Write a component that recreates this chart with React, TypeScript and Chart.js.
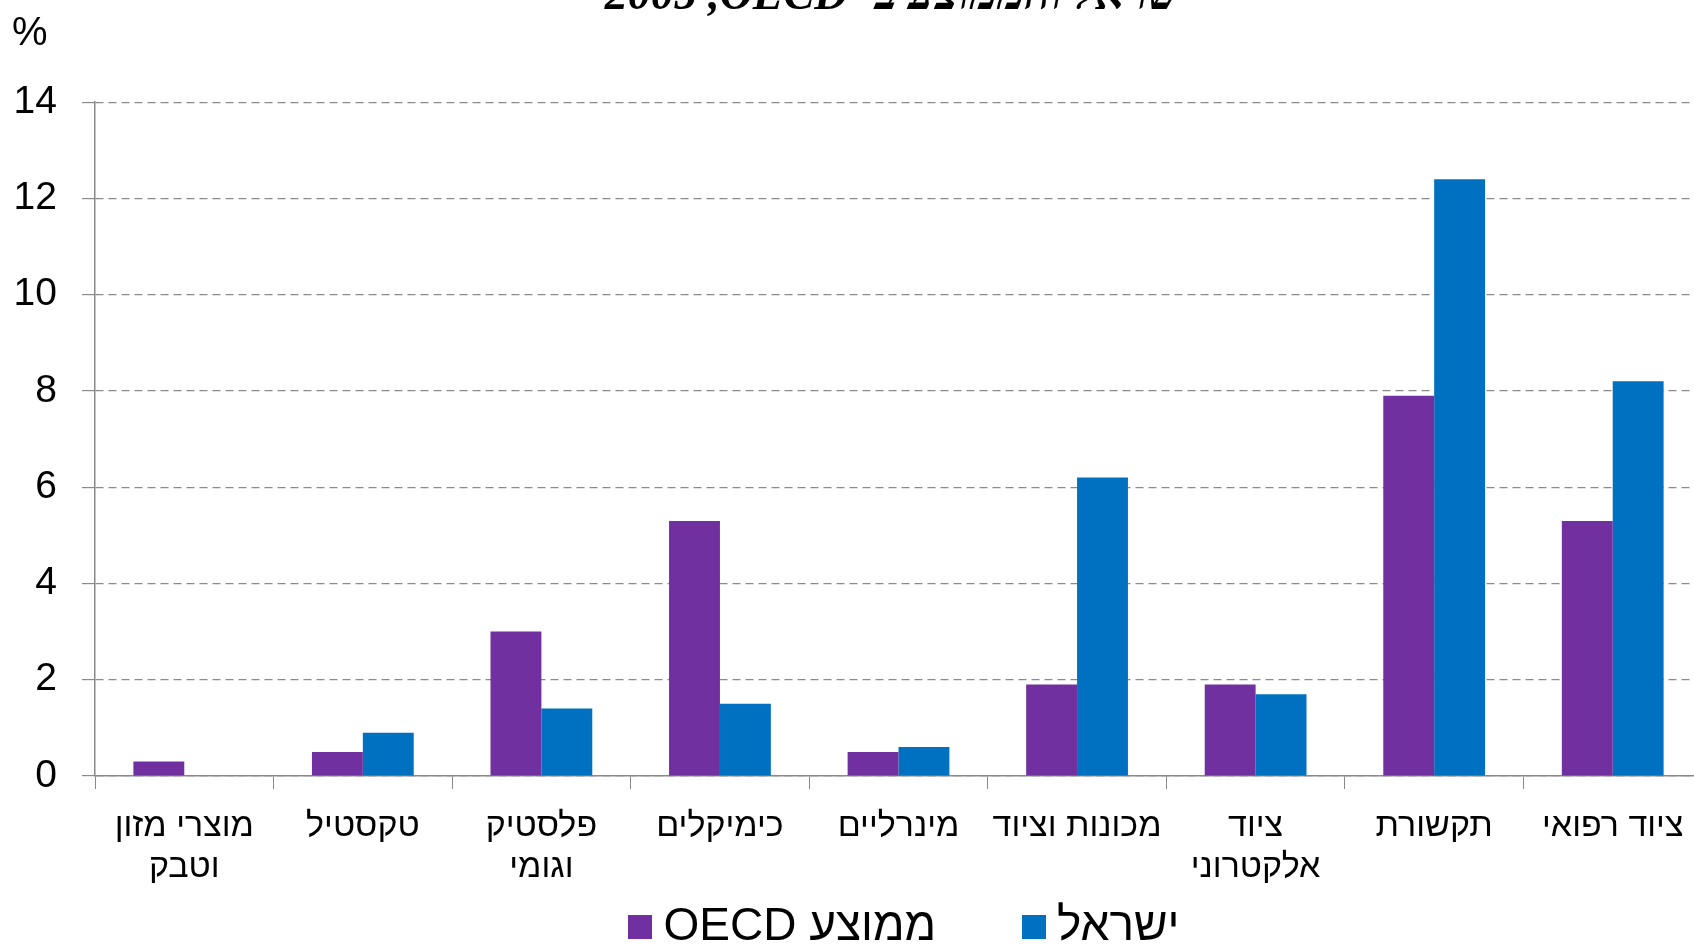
import React, { useEffect, useRef } from "react";
import { Chart, registerables } from "chart.js";

Chart.register(...registerables);

const categories: (string | string[])[] = [
  ["מוצרי מזון", "וטבק"],
  "טקסטיל",
  ["פלסטיק", "וגומי"],
  "כימיקלים",
  "מינרליים",
  "מכונות וציוד",
  ["ציוד", "אלקטרוני"],
  "תקשורת",
  "ציוד רפואי",
];
const oecdValues = [0.3, 0.5, 3.0, 5.3, 0.5, 1.9, 1.9, 7.9, 5.3];
const israelValues = [0, 0.9, 1.4, 1.5, 0.6, 6.2, 1.7, 12.4, 8.2];
const seriesLabels = ["\u202Bממוצע OECD\u202C", "ישראל"];
const seriesColors = ["#7030A0", "#0070C0"];
const titleText = "\u202Bישראל והממוצע ב- OECD\u200F, 2005\u202C";
const yUnit = "%";

const SHIFT = 30;
const W = 1702;
const H = 990;
const GRAY = "#8a8a8a";
const SANS = "'Liberation Sans', Arial, sans-serif";

function makeMarker(color: string) {
  const c = document.createElement("canvas");
  c.width = 24;
  c.height = 24;
  const g = c.getContext("2d")!;
  g.fillStyle = color;
  g.fillRect(0, 0, 24, 24);
  return c;
}

const unitPlugin = {
  id: "unitLabel",
  afterLayout(chart: any) {
    const x = chart.scales.x;
    if (x) x.bottom = chart.height;
    const lg = chart.legend;
    if (lg) {
      lg.left += 11;
      lg.right += 11;
    }
  },
  afterDraw(chart: any) {
    const ctx = chart.ctx;
    ctx.save();
    ctx.font = `40px ${SANS}`;
    ctx.fillStyle = "#000";
    ctx.textAlign = "left";
    ctx.textBaseline = "middle";
    ctx.fillText(yUnit, 12, 34 + SHIFT);
    ctx.restore();
  },
};

export default function App() {
  const ref = useRef<HTMLCanvasElement>(null);
  useEffect(() => {
    if (!ref.current) return;
    const markers = seriesColors.map(makeMarker);
    const chart = new Chart(ref.current, {
      type: "bar",
      data: {
        labels: categories,
        datasets: [
          {
            label: seriesLabels[0],
            data: oecdValues,
            backgroundColor: seriesColors[0],
            borderWidth: 0,
          },
          {
            label: seriesLabels[1],
            data: israelValues,
            backgroundColor: seriesColors[1],
            borderWidth: 0,
          },
        ],
      },
      options: {
        responsive: false,
        animation: false,
        layout: { padding: 0 },
        datasets: {
          bar: { categoryPercentage: 0.57, barPercentage: 1 },
        },
        plugins: {
          title: {
            display: true,
            text: titleText,
            fullSize: false,
            color: "#000",
            font: { family: "'Liberation Serif', 'Times New Roman', serif", size: 46, weight: "bold", style: "italic", lineHeight: 1.2 },
            padding: { top: 0, bottom: 77 },
          },
          legend: {
            position: "bottom",
            fullSize: false,
            labels: {
              usePointStyle: true,
              pointStyleWidth: 1,
              boxHeight: 24,
              padding: 97,
              color: "#000",
              font: { family: SANS, size: 46 },
              generateLabels: (c: any) =>
                Chart.defaults.plugins.legend.labels
                  .generateLabels(c)
                  .map((l: any, i: number) => ({ ...l, pointStyle: markers[i] })),
            },
          },
          tooltip: { enabled: false },
        },
        scales: {
          x: {
            afterFit: (scale: any) => {
              scale.height = 31;
            },
            grid: {
              display: true,
              drawOnChartArea: false,
              drawTicks: true,
              tickLength: 13,
              color: GRAY,
              offset: true,
            },
            border: { display: true, color: GRAY, width: 1.5 },
            ticks: {
              color: "#000",
              padding: 17,
              maxRotation: 0,
              autoSkip: false,
              font: { family: SANS, size: 34, lineHeight: 1.2 },
            },
          },
          y: {
            min: 0,
            max: 14,
            afterFit: (scale: any) => {
              scale.width = 95;
            },
            grid: {
              color: GRAY,
              lineWidth: 1.2,
              tickLength: 13,
              tickBorderDash: [],
            },
            border: { display: true, color: GRAY, width: 1.5, dash: [8, 5] },
            ticks: {
              stepSize: 2,
              color: "#000",
              padding: 25,
              font: { family: SANS, size: 39 },
            },
          },
        },
      },
      plugins: [unitPlugin],
    });
    return () => chart.destroy();
  }, []);

  return (
    <div
      style={{
        position: "fixed",
        left: 0,
        top: 0,
        width: "100vw",
        height: "100vh",
        overflow: "hidden",
        background: "#fff",
      }}
    >
      <div style={{ position: "absolute", left: 0, top: -SHIFT, width: W, height: H }}>
        <canvas ref={ref} width={W} height={H} style={{ display: "block" }} />
      </div>
    </div>
  );
}
